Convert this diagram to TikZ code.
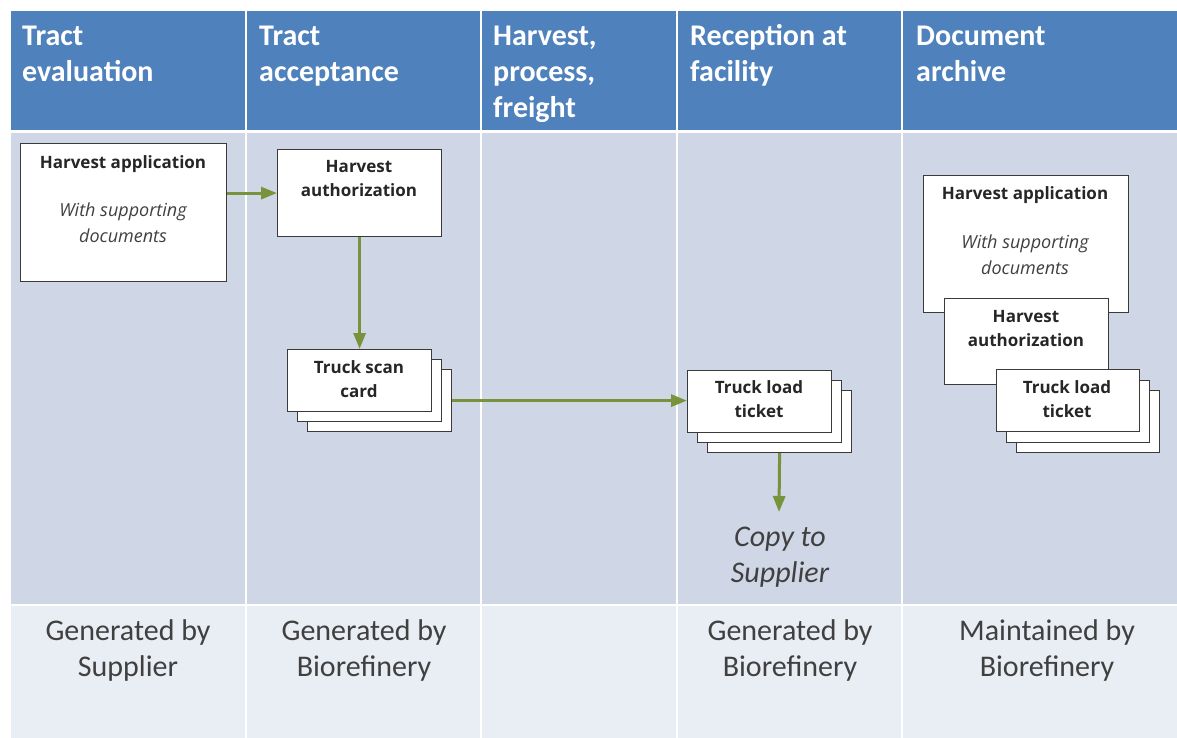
\documentclass[tikz,border=0pt]{standalone}
\usepackage{fontspec}
\setmainfont{Carlito}
\newfontfamily\boxfont{Open Sans}
\usetikzlibrary{arrows.meta}
\definecolor{hdr}{HTML}{4F81BD}
\definecolor{bodyc}{HTML}{CFD7E6}
\definecolor{foot}{HTML}{E9EDF4}
\definecolor{arr}{HTML}{77933C}
\definecolor{boxline}{HTML}{3A3A3A}
\definecolor{ftext}{HTML}{404040}
\tikzset{
  hdrtext/.style={text=white, font=\bfseries\fontsize{30}{36}\selectfont, align=left, anchor=north west, inner sep=0pt},
  foottext/.style={text=ftext, font=\fontsize{30}{36}\selectfont, align=center, anchor=north, inner sep=0pt},
  doc/.style={draw=boxline, fill=white, line width=1.2pt, anchor=north west, inner sep=0pt},
  doctitle/.style={text=black!85, font=\boxfont\bfseries\fontsize{17}{24}\selectfont, align=center, anchor=north, inner sep=0pt},
  docnote/.style={text=ftext, font=\boxfont\itshape\fontsize{18}{25.5}\selectfont, align=center, anchor=north, inner sep=0pt},
  flow/.style={draw=arr, line width=3pt, -{Triangle[length=16pt,width=12pt]}},
  sep/.style={draw=white, line width=2pt}
}
\begin{document}
\begin{tikzpicture}[x=1pt,y=-1pt]
\useasboundingbox (0,0) rectangle (1177,738);
% table background
\fill[hdr] (11,11) rectangle (1177,130);
\fill[bodyc] (11,133) rectangle (1177,604);
\fill[foot] (11,606) rectangle (1177,738);
\foreach \x in {246,481,677,902} \draw[sep] (\x,11) -- (\x,738);
% header texts
\node[hdrtext] (h1) at (22,26) {Tract\\evaluation};
\node[hdrtext] (h2) at (259,26) {Tract\\acceptance};
\node[hdrtext] (h3) at (493,26) {Harvest,\\process,\\freight};
\node[hdrtext] (h4) at (690,24) {Reception at\\facility};
\node[hdrtext] (h5) at (916,26) {Document\\archive};
% footer texts
\node[foottext] (f1) at (128,619) {Generated by\\Supplier};
\node[foottext] (f2) at (364,619) {Generated by\\Biorefinery};
\node[foottext] (f4) at (790,619) {Generated by\\Biorefinery};
\node[foottext] (f5) at (1047,619) {Maintained by\\Biorefinery};
% column 1: harvest application
\node[doc, minimum width=206pt, minimum height=138pt] (ha) at (20,143) {};
\node[doctitle] (hat) at (123,155) {Harvest application};
\node[docnote] (han) at (123,203) {With supporting\\documents};
% column 2: harvest authorization
\node[doc, minimum width=164pt, minimum height=87pt] (hauth) at (277,149) {};
\node[doctitle] (hautht) at (359,160) {Harvest\\authorization};
% truck scan card stack
\node[doc, minimum width=144pt, minimum height=62pt] (tsc3) at (307,369) {};
\node[doc, minimum width=144pt, minimum height=62pt] (tsc2) at (297,359) {};
\node[doc, minimum width=144pt, minimum height=62pt] (tsc) at (287,349) {};
\node[doctitle] (tsct) at (359,360) {Truck scan\\card};
% column 4: truck load ticket stack
\node[doc, minimum width=144pt, minimum height=62pt] (tlt3) at (707,390) {};
\node[doc, minimum width=144pt, minimum height=62pt] (tlt2) at (697,380) {};
\node[doc, minimum width=144pt, minimum height=62pt] (tlt) at (687,370) {};
\node[doctitle] (tltt) at (759,380) {Truck load\\ticket};
\coordinate (cend) at (779,512);
\node[text=ftext, font=\itshape\fontsize{30}{36}\selectfont, align=center, anchor=north, inner sep=0pt] (copy) at (780,527) {Copy to\\Supplier};
% column 5: archive
\node[doc, minimum width=205pt, minimum height=137pt] (aha) at (923,175) {};
\node[doctitle] (ahat) at (1025,186) {Harvest application};
\node[docnote] (ahan) at (1025,235) {With supporting\\documents};
\node[doc, minimum width=164pt, minimum height=86pt] (aauth) at (944,298) {};
\node[doctitle] (aautht) at (1026,310) {Harvest\\authorization};
\node[doc, minimum width=143pt, minimum height=62pt] (atlt3) at (1016,390) {};
\node[doc, minimum width=143pt, minimum height=62pt] (atlt2) at (1006,380) {};
\node[doc, minimum width=143pt, minimum height=62pt] (atlt) at (996,369) {};
\node[doctitle] (atltt) at (1067,380) {Truck load\\ticket};
% flow arrows
\draw[flow] (ha.east |- hauth.west) -- (hauth.west);
\draw[flow] (hauth.south) -- (tsc.north);
\draw[flow] (tsc3.east) -- (tlt.west |- tsc3.east);
\draw[flow] (tlt3.south) -- (cend);
\end{tikzpicture}
\end{document}
